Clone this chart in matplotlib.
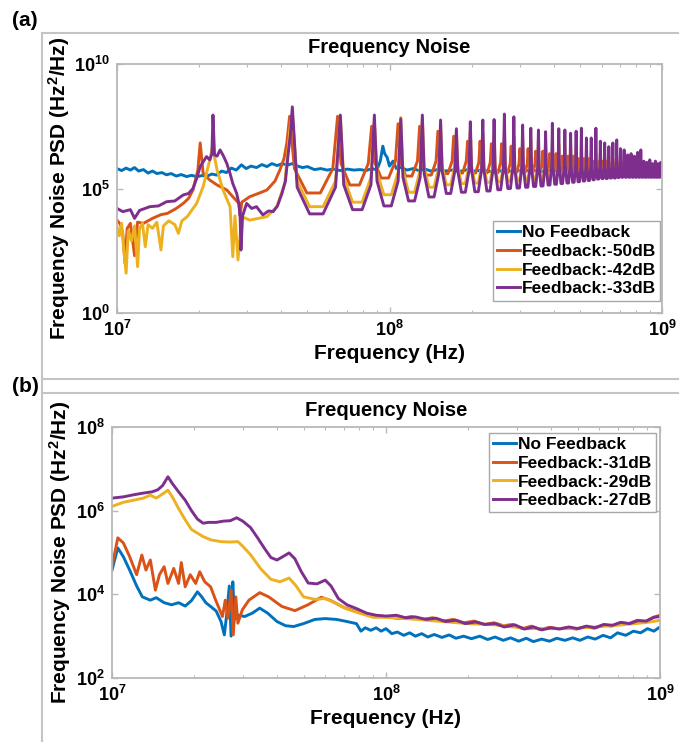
import numpy as np
import matplotlib
matplotlib.use("Agg")
import matplotlib.pyplot as plt
from matplotlib.lines import Line2D
from matplotlib.ticker import FixedLocator, FixedFormatter, NullLocator, LogLocator, NullFormatter

plt.rcParams['font.family'] = ['Liberation Sans', 'DejaVu Sans']
plt.rcParams['font.weight'] = 'bold'
plt.rcParams['mathtext.fontset'] = 'custom'
plt.rcParams['mathtext.rm'] = 'Liberation Sans:bold'
plt.rcParams['mathtext.bf'] = 'Liberation Sans:bold'
plt.rcParams['mathtext.it'] = 'Liberation Sans:bold'
plt.rcParams['mathtext.default'] = 'bf'

# ---------------- data (frequency in MHz, PSD as log10 value) ----------------
labels_a = ['No Feedback', 'Feedback:-50dB', 'Feedback:-42dB', 'Feedback:-33dB']
labels_b = ['No Feedback', 'Feedback:-31dB', 'Feedback:-29dB', 'Feedback:-27dB']
colors = ['#0072BD', '#D95319', '#EDB120', '#7E2F8E']

xticks = [1e7, 1e8, 1e9]
xtick_labels = [r'$\mathbf{10^{7}}$', r'$\mathbf{10^{8}}$', r'$\mathbf{10^{9}}$']
yticks_a = [1e0, 1e5, 1e10]
ytick_labels_a = [r'$\mathbf{10^{0}}$', r'$\mathbf{10^{5}}$', r'$\mathbf{10^{10}}$']
yticks_b = [1e2, 1e4, 1e6, 1e8]
ytick_labels_b = [r'$\mathbf{10^{2}}$', r'$\mathbf{10^{4}}$', r'$\mathbf{10^{6}}$', r'$\mathbf{10^{8}}$']

# ---- panel (a) ----
blue_a_f = [10, 10.4, 10.8, 11.2, 11.6, 12.0, 12.5, 13.0, 13.5, 14.0,
            14.6, 15.2, 15.8, 16.5, 17.2, 18.0, 18.8, 19.6, 20.5, 21.4,
            22.3, 23.2, 24.2, 25.2, 26.3, 27.4, 28.6, 29.8, 31.0, 32.5,
            34.0, 35.5, 37.0, 38.7, 40.4, 42.2, 44.0, 46.0, 48.0, 50.0,
            53, 56, 59, 62, 66, 70, 74, 78, 82, 86,
            90, 92.5, 94.5, 96, 98, 100, 103, 106, 110, 116,
            122, 128, 135, 142, 150, 160, 170, 180, 192, 205,
            220, 235, 250, 270, 290, 310, 335, 360, 390, 420,
            450, 480, 495, 510, 530, 560, 600, 640, 690, 740,
            800, 860, 930, 1000]
blue_a_v = [5.8, 5.72, 5.82, 5.74, 5.84, 5.7, 5.76, 5.62, 5.7, 5.6,
            5.64, 5.55, 5.6, 5.5, 5.56, 5.48, 5.53, 5.47, 5.52, 5.5,
            5.58, 5.54, 5.7, 5.64, 5.82, 5.74, 5.95, 5.8, 5.9, 5.84,
            5.96, 5.88, 6.0, 5.92, 6.0, 5.94, 6.0, 5.9, 5.84, 5.88,
            5.76, 5.8, 5.74, 5.78, 5.72, 5.78, 5.74, 5.76, 5.72, 5.8,
            5.75, 6.1, 6.7, 6.4, 6.25, 5.9, 6.1, 5.8, 5.85, 5.74,
            5.8, 5.72, 5.78, 5.7, 5.76, 5.7, 5.74, 5.68, 5.75, 5.7,
            5.74, 5.68, 5.72, 5.68, 5.73, 5.7, 5.74, 5.68, 5.72, 5.7,
            5.74, 5.72, 6.05, 5.78, 5.72, 5.7, 5.74, 5.68, 5.72, 5.7,
            5.75, 5.7, 5.74, 5.72]

orange_a_low_f = [10.0, 10.3, 10.5, 10.7, 10.9, 11.2, 11.6, 11.9, 12.5, 13.5,
                  14.5, 15.3, 16.5, 17.5, 18.3, 19.0, 19.8, 20.2, 20.7, 21.9,
                  23.3, 25.3, 26.6, 27.5, 28.0, 28.3, 28.7, 30.7, 33.0, 35.5,
                  38.0, 39.6, 41.0, 42.0]
orange_a_low_v = [3.73, 3.55, 3.2, 2.0, 3.4, 3.6, 2.3, 3.65, 3.6, 3.8,
                  3.95, 4.0, 4.2, 4.4, 4.6, 4.94, 5.74, 6.83, 5.62, 5.34,
                  5.14, 4.94, 4.67, 4.5, 4.4, 3.9, 4.45, 4.67, 4.8, 4.94,
                  5.3, 5.74, 6.2, 6.83]
orange_a_peak_f = [43, 64.5, 86, 107.5, 129, 150.5, 172, 193.5, 215, 236.5,
                   258, 279.5, 301, 322.5, 344, 365.5, 387, 408.5, 430, 451.5,
                   473, 494.5, 516, 537.5, 559, 580.5, 602, 623.5, 645, 666.5,
                   688, 709.5, 731, 752.5, 774, 795.5, 817, 838.5, 860, 881.5,
                   903, 924.5, 946, 967.5, 989]
orange_a_peak_v = [7.9, 7.9, 7.5, 7.6, 7.5, 7.3, 7.1, 6.9, 6.9, 6.8,
                   6.8, 6.7, 6.6, 6.6, 6.5, 6.5, 6.4, 6.4, 6.3, 6.3,
                   6.3, 6.2, 6.2, 6.2, 6.1, 6.1, 6.1, 6.1, 6.0, 6.0,
                   6.0, 6.0, 6.0, 5.95, 5.95, 5.95, 5.95, 5.9, 5.9, 5.9,
                   5.9, 5.9, 5.9, 5.9, 5.9]
orange_a_shoulder_v = [5.8, 6.0, 6.1, 6.1, 6.1, 6.1, 6.1, 6.05, 6.05, 6.05,
                       6.0, 6.0, 6.0, 6.0, 6.0, 6.0, 6.0, 6.0, 5.95, 5.95,
                       5.95, 5.95, 5.95, 5.95, 5.9, 5.9, 5.9, 5.9, 5.9, 5.9,
                       5.85, 5.85, 5.85, 5.85, 5.85, 5.85, 5.8, 5.8, 5.8, 5.8,
                       5.8, 5.8, 5.8, 5.8]
orange_a_valley_v = [4.82, 5.14, 5.42, 5.5, 5.54, 5.6, 5.62, 5.62, 5.63, 5.63,
                     5.64, 5.64, 5.65, 5.65, 5.65, 5.65, 5.65, 5.65, 5.65, 5.65,
                     5.65, 5.65, 5.65, 5.65, 5.65, 5.65, 5.65, 5.65, 5.65, 5.65,
                     5.65, 5.65, 5.65, 5.65, 5.65, 5.65, 5.65, 5.65, 5.65, 5.65,
                     5.65, 5.65, 5.65, 5.65]

yellow_a_low_f = [10.0, 10.2, 10.4, 10.6, 10.8, 11.0, 11.3, 11.6, 11.9, 12.1,
                  12.4, 12.7, 13.0, 13.5, 14.0, 14.5, 14.8, 15.5, 16.3, 16.8,
                  17.3, 18.1, 19.6, 20.7, 21.9, 22.4, 23.3, 24.5, 26.0, 26.6,
                  27.1, 27.8, 28.7, 30.7, 33.0, 35.5, 38.6, 41.3, 43.2]
yellow_a_low_v = [3.47, 3.1, 3.6, 2.5, 1.6, 3.3, 2.9, 3.5, 1.86, 3.4,
                  3.6, 2.66, 3.55, 3.4, 3.65, 2.53, 3.5, 3.7, 3.55, 3.2,
                  3.7, 3.87, 4.4, 5.07, 6.14, 6.68, 5.74, 4.94, 4.27, 2.26,
                  3.9, 2.13, 3.87, 3.73, 3.8, 3.87, 4.27, 5.22, 7.48]
harm_f = [44, 66, 88, 110, 132, 154, 176, 198, 220, 242,
          264, 286, 308, 330, 352, 374, 396, 418, 440, 462,
          484, 506, 528, 550, 572, 594, 616, 638, 660, 682,
          704, 726, 748, 770, 792, 814, 836, 858, 880, 902,
          924, 946, 968, 990]
yellow_a_peak_v = [8.03, 7.9, 7.7, 7.85, 7.8, 7.5, 7.3, 7.3, 7.25, 7.2,
                   7.2, 7.1, 7.0, 7.0, 6.9, 6.9, 6.8, 6.8, 6.7, 6.7,
                   6.6, 6.6, 6.5, 6.5, 6.4, 6.4, 6.3, 6.3, 6.2, 6.2,
                   6.2, 6.1, 6.1, 6.1, 6.0, 6.0, 6.0, 6.0, 5.95, 5.95,
                   5.95, 5.9, 5.9, 5.9]
yellow_a_shoulder_v = [5.3, 5.45, 5.65, 5.75, 5.85, 5.9, 5.9, 5.9, 5.9, 5.9,
                       5.9, 5.9, 5.9, 5.9, 5.9, 5.9, 5.9, 5.85, 5.85, 5.85,
                       5.85, 5.85, 5.85, 5.85, 5.85, 5.85, 5.8, 5.8, 5.8, 5.8,
                       5.8, 5.8, 5.8, 5.8, 5.8, 5.8, 5.8, 5.8, 5.8, 5.8,
                       5.8, 5.8, 5.8]
yellow_a_valley_v = [4.27, 4.45, 4.75, 4.85, 5.05, 5.15, 5.2, 5.22, 5.25, 5.27,
                     5.3, 5.32, 5.34, 5.36, 5.38, 5.4, 5.42, 5.44, 5.45, 5.46,
                     5.47, 5.48, 5.48, 5.49, 5.5, 5.5, 5.5, 5.5, 5.5, 5.5,
                     5.5, 5.5, 5.5, 5.5, 5.5, 5.5, 5.5, 5.5, 5.5, 5.5,
                     5.5, 5.5, 5.5]

purple_a_low_f = [10.0, 10.5, 11.2, 11.6, 12.1, 13.2, 14.2, 15.2, 16.3, 17.5,
                  18.3, 19.0, 19.6, 20.2, 20.8, 21.3, 21.9, 22.3, 22.5, 22.8,
                  23.3, 23.9, 24.6, 25.3, 26.0, 26.6, 27.5, 28.0, 28.3, 28.5,
                  28.9, 29.9, 31.2, 32.5, 34.3, 36.0, 37.4, 38.8, 40.3, 41.5,
                  42.5, 43.3]
purple_a_low_v = [4.2, 4.07, 4.15, 3.8, 4.12, 4.27, 4.3, 4.47, 4.5, 4.74,
                  4.8, 5.0, 5.4, 5.88, 6.1, 6.28, 6.15, 6.4, 7.95, 6.35,
                  6.3, 6.55, 6.3, 6.0, 5.6, 5.2, 4.8, 4.4, 3.87, 2.53,
                  3.9, 4.4, 4.2, 4.27, 3.94, 4.1, 4.07, 4.3, 4.8, 5.3,
                  6.41, 7.2]
purple_a_peak_v = [8.28, 7.95, 7.95, 7.8, 7.95, 7.75, 7.4, 7.68, 7.75, 7.77,
                   7.99, 7.88, 7.55, 7.42, 7.35, 7.28, 7.62, 7.4, 7.35, 7.22,
                   7.3, 7.42, 7.03, 7.03, 7.42, 6.9, 6.83, 6.68, 6.83, 6.95,
                   6.6, 6.55, 6.35, 6.4, 6.3, 6.45, 6.55, 6.1, 6.05, 6.15,
                   6.0, 6.1, 6.0, 6.05]
purple_a_shoulder_v = [5.05, 5.15, 5.3, 5.45, 5.6, 5.7, 5.7, 5.75, 5.75, 5.8,
                       5.85, 5.85, 5.85, 5.85, 5.85, 5.9, 5.9, 5.9, 5.9, 5.9,
                       5.9, 5.9, 5.9, 5.9, 5.9, 5.85, 5.85, 5.85, 5.85, 5.85,
                       5.8, 5.8, 5.8, 5.8, 5.8, 5.75, 5.75, 5.75, 5.75, 5.75,
                       5.75, 5.75, 5.75]
purple_a_valley_v = [3.98, 4.15, 4.3, 4.5, 4.66, 4.8, 4.85, 4.87, 4.9, 4.95,
                     5.0, 5.02, 5.05, 5.08, 5.1, 5.14, 5.17, 5.2, 5.22, 5.25,
                     5.27, 5.3, 5.32, 5.35, 5.38, 5.4, 5.4, 5.42, 5.42, 5.44,
                     5.45, 5.45, 5.45, 5.45, 5.45, 5.45, 5.45, 5.45, 5.45, 5.45,
                     5.45, 5.45, 5.45]
end_a_f = [1000]
end_a_v = [5.8]

# ---- panel (b) ----
blue_b_f = [10.0, 10.5, 11.0, 11.6, 12.3, 12.9, 13.8, 14.5, 15.5, 16.5,
            17.5, 18.5, 19.5, 20.5, 21.2, 22.0, 23.0, 24.0, 25.0, 25.7,
            26.2, 26.8, 27.2, 27.6, 28.0, 29.0, 30.5, 32.5, 34.6, 37.0,
            40, 43, 46, 50, 55, 60, 66, 72, 78,
            81, 84, 88, 92, 96, 100, 105, 110, 116, 122,
            128, 135, 142, 150, 160, 170, 180, 192, 205, 220,
            235, 250, 268, 285, 305, 325, 345, 370, 395, 420,
            450, 480, 510, 545, 580, 620, 660, 700, 750, 800,
            850, 900, 950, 1000]
blue_b_v = [4.58, 5.11, 4.9, 4.58, 4.2, 3.94, 3.86, 3.92, 3.8, 3.75,
            3.8, 3.72, 3.85, 4.06, 3.95, 3.8, 3.7, 3.6, 3.35, 3.03,
            3.5, 4.2, 3.0, 4.3, 3.4, 3.5, 3.47, 3.55, 3.67, 3.55,
            3.35, 3.25, 3.23, 3.3, 3.4, 3.42, 3.4, 3.35, 3.3,
            3.12, 3.2, 3.14, 3.2, 3.12, 3.18, 3.06, 3.1, 3.02, 3.08,
            3.0, 3.06, 2.98, 3.04, 2.97, 3.03, 2.95, 3.0, 2.94, 3.0,
            2.92, 2.98, 2.9, 2.96, 2.88, 2.95, 2.87, 2.93, 2.88, 2.95,
            2.9, 2.96, 2.9, 2.98, 2.93, 3.02, 2.96, 3.08, 3.02, 3.12,
            3.08, 3.18, 3.12, 3.22]

orange_b_f = [10.0, 10.5, 11.0, 11.6, 12.3, 12.85, 13.3, 13.8, 14.4, 14.9,
              15.5, 16.0, 16.8, 17.5, 17.9, 18.5, 19.3, 20.2, 20.9, 21.8,
              22.9, 23.9, 25.3, 25.9, 26.5, 27.2, 27.7, 28.3, 28.8, 29.9,
              31.6, 34.6, 37.3, 41.7, 46.5, 51.9, 58.0, 62.5, 70.0, 81.0,
              94.0,
              100, 112, 124, 136, 148, 162, 176, 192, 210, 228,
              248, 268, 290, 315, 340, 365, 395, 425, 460, 495,
              535, 575, 620, 665, 715, 770, 825, 885, 945, 1000]
orange_b_v = [4.66, 5.35, 5.23, 4.9, 4.47, 4.94, 4.58, 4.82, 4.1, 4.47,
              4.66, 4.26, 4.62, 4.26, 4.76, 4.18, 4.47, 4.26, 4.54, 4.3,
              4.18, 3.86, 3.47, 3.86, 3.43, 4.1, 3.03, 3.94, 3.31, 3.63,
              3.86, 4.04, 3.94, 3.71, 3.61, 3.75, 3.93, 3.86, 3.69, 3.55,
              3.48,
              3.47, 3.42, 3.47, 3.4, 3.44, 3.36, 3.4, 3.32, 3.36, 3.28,
              3.32, 3.25, 3.28, 3.18, 3.24, 3.16, 3.21, 3.18, 3.2, 3.17,
              3.23, 3.19, 3.27, 3.24, 3.32, 3.3, 3.38, 3.35, 3.45, 3.5]

yellow_b_f = [10, 11, 12, 13, 13.8, 14.5, 15.3, 16.0, 16.7, 17.5,
              18.5, 19.5, 21.5, 23, 25, 27, 28.8, 30, 32, 35,
              38, 41, 44.3, 47, 50, 55, 60, 65, 72, 80,
              90, 100, 130, 160, 200, 250, 330, 480, 700, 900,
              1000]
yellow_b_v = [6.1, 6.2, 6.25, 6.3, 6.37, 6.3, 6.4, 6.49, 6.3, 6.05,
              5.78, 5.55, 5.38, 5.3, 5.26, 5.25, 5.26, 5.15, 4.95, 4.6,
              4.36, 4.3, 4.39, 4.2, 3.94, 3.88, 3.9, 3.8, 3.65, 3.55,
              3.45, 3.45, 3.4, 3.35, 3.3, 3.27, 3.18, 3.18, 3.26, 3.33,
              3.38]

purple_b_f = [10, 11, 12, 13, 14, 14.7, 15.3, 16.0, 16.6, 17.5,
              18.5, 19.5, 20.5, 21.5, 22.5, 24, 25.5, 27, 28.5, 30,
              32, 34, 36, 38, 40, 42, 44.3, 46.5, 49, 52,
              56, 60, 63, 67, 72, 78, 85, 92,
              100, 109, 118, 128, 140, 152, 165, 180, 195, 212,
              230, 250, 270, 295, 320, 345, 370, 400, 430, 465,
              500, 540, 580, 625, 670, 720, 775, 830, 890, 950,
              1000]
purple_b_v = [6.3, 6.33, 6.38, 6.42, 6.45, 6.5, 6.6, 6.81, 6.65, 6.45,
              6.25, 6.0, 5.8, 5.7, 5.72, 5.72, 5.75, 5.76, 5.83, 5.75,
              5.6, 5.35, 5.1, 4.88, 4.82, 4.9, 4.99, 4.85, 4.55, 4.27,
              4.25, 4.34, 4.2, 3.9, 3.75, 3.66, 3.55, 3.5,
              3.48, 3.5, 3.44, 3.46, 3.4, 3.43, 3.35, 3.38, 3.3, 3.34,
              3.28, 3.3, 3.22, 3.27, 3.17, 3.22, 3.15, 3.2, 3.17, 3.22,
              3.18, 3.24, 3.2, 3.28, 3.26, 3.33, 3.3, 3.37, 3.36, 3.45,
              3.47]


def comb(low_f, low_v, peak_f, peak_v, shoulder_v, valley_v, tail_f=(), tail_v=()):
    """Chain read values: the low-frequency part, then each resonance peak
    followed by the read shoulder and valley levels of the gap after it."""
    f = list(low_f)
    v = list(low_v)
    for i in range(len(peak_f)):
        f.append(peak_f[i])
        v.append(peak_v[i])
        if i < len(valley_v) and i + 1 < len(peak_f):
            lo, hi = np.log10(peak_f[i]), np.log10(peak_f[i + 1])
            levels = (shoulder_v[i], valley_v[i], valley_v[i], shoulder_v[i])
            for fr, lv in zip((0.1, 0.36, 0.64, 0.9), levels):
                f.append(10 ** (lo + fr * (hi - lo)))
                v.append(lv)
    f += list(tail_f)
    v += list(tail_v)
    return np.array(f) * 1e6, 10 ** np.array(v)


series_a = [
    (np.array(blue_a_f) * 1e6, 10 ** np.array(blue_a_v)),
    comb(orange_a_low_f, orange_a_low_v, orange_a_peak_f, orange_a_peak_v,
         orange_a_shoulder_v, orange_a_valley_v, end_a_f, end_a_v),
    comb(yellow_a_low_f, yellow_a_low_v, harm_f, yellow_a_peak_v,
         yellow_a_shoulder_v, yellow_a_valley_v, end_a_f, end_a_v),
    comb(purple_a_low_f, purple_a_low_v, harm_f, purple_a_peak_v,
         purple_a_shoulder_v, purple_a_valley_v, end_a_f, end_a_v),
]
series_b = [
    (np.array(blue_b_f) * 1e6, 10 ** np.array(blue_b_v)),
    (np.array(orange_b_f) * 1e6, 10 ** np.array(orange_b_v)),
    (np.array(yellow_b_f) * 1e6, 10 ** np.array(yellow_b_v)),
    (np.array(purple_b_f) * 1e6, 10 ** np.array(purple_b_v)),
]

# ---------------- figure ----------------
W, H = 691, 742
fig = plt.figure(figsize=(W / 100, H / 100), dpi=100)
fig.patch.set_facecolor('white')

axA = fig.add_axes([117 / W, 1 - 313 / H, 545 / W, 249 / H])
axB = fig.add_axes([112 / W, 1 - 678 / H, 548 / W, 251 / H])

spine_col = '#b8b8b8'


def style(ax, yticks, ylabels, ylim):
    ax.set_xscale('log')
    ax.set_yscale('log')
    ax.set_xlim(1e7, 1e9)
    ax.set_ylim(*ylim)
    ax.xaxis.set_major_locator(FixedLocator(xticks))
    ax.xaxis.set_major_formatter(FixedFormatter(xtick_labels))
    ax.xaxis.set_minor_locator(LogLocator(base=10, subs=np.arange(2, 10)))
    ax.xaxis.set_minor_formatter(NullFormatter())
    ax.yaxis.set_major_locator(FixedLocator(yticks))
    ax.yaxis.set_major_formatter(FixedFormatter(ylabels))
    ax.yaxis.set_minor_locator(NullLocator())
    ax.tick_params(which='both', direction='in', top=True, right=True,
                   colors=spine_col, labelcolor='black', labelsize=13)
    ax.tick_params(which='major', length=4, width=1, pad=5)
    ax.tick_params(which='minor', length=2.5, width=0.8)
    for s in ax.spines.values():
        s.set_color(spine_col)
        s.set_linewidth(1.3)
    ax.set_title('Frequency Noise', fontsize=14.5, fontweight='bold', pad=8)
    ax.set_xlabel('Frequency (Hz)', fontsize=15, fontweight='bold', labelpad=3)
    ax.set_ylabel(r'Frequency Noise PSD (Hz$^{\mathbf{2}}$/Hz)', fontsize=15,
                  fontweight='bold', labelpad=2)


style(axA, yticks_a, ytick_labels_a, (1e0, 1e10))
style(axB, yticks_b, ytick_labels_b, (1e2, 1e8))

for (x, y), c, lab in zip(series_a, colors, labels_a):
    axA.plot(x, y, color=c, lw=2.1, label=lab)
for (x, y), c, lab in zip(series_b, colors, labels_b):
    axB.plot(x, y, color=c, lw=2.1, label=lab)

leg_kw = dict(fontsize=12.5, handlelength=1.3, handletextpad=0.1, borderpad=0.25,
              labelspacing=0.2, borderaxespad=0, fancybox=False, framealpha=1,
              edgecolor='#a8a8a8')
legA = axA.legend(loc='lower right', bbox_to_anchor=(0.997, 0.05), **leg_kw)
legB = axB.legend(loc='upper right', bbox_to_anchor=(0.993, 0.977), **leg_kw)
for leg in (legA, legB):
    leg.get_frame().set_linewidth(1.0)
    for t in leg.get_texts():
        t.set_fontweight('bold')

# panel frame lines of the layout
line_col = '#c4c4c4'
fig.add_artist(Line2D([42 / W, 42 / W], [1 - 33 / H, 0], transform=fig.transFigure,
                      color=line_col, lw=1.5))
for yy in (33, 379, 393):
    fig.add_artist(Line2D([42 / W, 678 / W], [1 - yy / H, 1 - yy / H],
                          transform=fig.transFigure, color=line_col, lw=1.5))

fig.text(12 / W, 1 - 20 / H, '(a)', fontsize=15, fontweight='bold', ha='left', va='center')
fig.text(12 / W, 1 - 386 / H, '(b)', fontsize=15, fontweight='bold', ha='left', va='center')

fig.savefig('out.png', dpi=100)
